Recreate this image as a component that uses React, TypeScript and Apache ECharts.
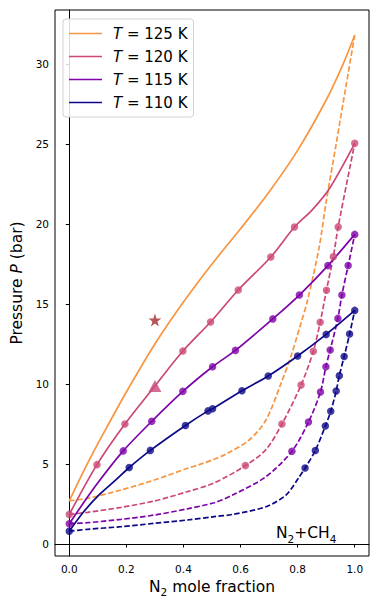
import React, { useEffect, useRef } from "react";
import * as echarts from "echarts";

const FONT = "DejaVu Sans";

const seriesNames = ["T = 125 K", "T = 120 K", "T = 115 K", "T = 110 K"];
const seriesColors = ["#f89540", "#cc4778", "#7e03a8", "#0d0887"];
const xTicks = [0, 0.2, 0.4, 0.6, 0.8, 1.0];
const yTicks = [0, 5, 10, 15, 20, 25, 30];

// T = 125 K model curves (no measured points)
const bubbleCurve125 = [
  [0, 2.7], [0.064, 5.04], [0.123, 7.02], [0.2, 9.5], [0.3, 12.5], [0.4, 15.12],
  [0.5, 17.5], [0.6, 19.7], [0.7, 22.0], [0.8, 24.6], [0.9, 27.75], [0.957, 29.9], [1.0, 31.8],
];
const dewCurve125 = [
  [0, 2.7], [0.064, 2.85], [0.181, 3.375], [0.298, 4.0], [0.414, 4.73], [0.455, 4.96],
  [0.508, 5.3], [0.549, 5.62], [0.63, 6.5], [0.689, 7.75], [0.741, 10.0], [0.776, 11.71],
  [0.81, 13.7], [0.835, 15.25], [0.876, 18.6], [0.899, 21.3], [0.934, 24.9],
  [0.969, 28.58], [1.0, 31.8],
];

// T = 120 K
const bubbleCurve120 = [
  [0, 1.85], [0.097, 4.96], [0.195, 7.5], [0.3, 9.875], [0.398, 12.06], [0.495, 13.875],
  [0.592, 15.875], [0.706, 17.94], [0.789, 19.81], [0.852, 20.9], [0.911, 22.2], [1.0, 25.04],
];
const dewCurve120 = [
  [0, 1.85], [0.064, 1.98], [0.181, 2.29], [0.298, 2.69], [0.414, 3.27], [0.508, 3.82],
  [0.617, 4.9], [0.689, 5.9], [0.745, 7.5], [0.812, 9.93], [0.855, 12.05], [0.879, 13.86],
  [0.901, 15.86], [0.925, 17.95], [0.942, 19.82], [1.0, 25.04],
];
const bubblePts120 = [
  [0, 1.85], [0.097, 4.96], [0.195, 7.5], [0.398, 12.06], [0.495, 13.875], [0.592, 15.875],
  [0.706, 17.94], [0.789, 19.81], [1.0, 25.04],
];
const dewPts120 = [
  [0.617, 4.9], [0.745, 7.5], [0.812, 9.93], [0.855, 12.05], [0.879, 13.86], [0.901, 15.86],
  [0.925, 17.95], [0.942, 19.82],
];

// T = 115 K
const bubbleCurve115 = [
  [0, 1.27], [0.093, 3.65], [0.189, 5.82], [0.289, 7.67], [0.398, 9.54], [0.502, 11.08],
  [0.582, 12.1], [0.713, 14.07], [0.806, 15.56], [0.906, 17.4], [1.0, 19.35],
];
const dewCurve115 = [
  [0, 1.27], [0.064, 1.33], [0.181, 1.54], [0.298, 1.81], [0.414, 2.2], [0.508, 2.58],
  [0.572, 3.06], [0.689, 4.21], [0.78, 5.8], [0.838, 7.62], [0.88, 9.5], [0.899, 11.08],
  [0.914, 12.13], [0.941, 14.1], [0.955, 15.56], [0.977, 17.4], [1.0, 19.35],
];
const bubblePts115 = [
  [0, 1.27], [0.189, 5.82], [0.289, 7.67], [0.398, 9.54], [0.502, 11.08], [0.582, 12.1],
  [0.713, 14.07], [0.806, 15.56], [0.906, 17.4], [1.0, 19.35],
];
const dewPts115 = [
  [0.78, 5.8], [0.838, 7.62], [0.88, 9.5], [0.899, 11.08], [0.914, 12.13], [0.941, 14.1],
  [0.955, 15.56], [0.977, 17.4],
];

// T = 110 K
const bubbleCurve110 = [
  [0, 0.8], [0.047, 1.94], [0.105, 3.08], [0.164, 4.02], [0.21, 4.78], [0.284, 5.85],
  [0.407, 7.41], [0.486, 8.32], [0.502, 8.45], [0.605, 9.58], [0.697, 10.5], [0.8, 11.75],
  [0.9, 13.1], [1.0, 14.6],
];
const dewCurve110 = [
  [0, 0.8], [0.064, 0.92], [0.181, 1.08], [0.298, 1.29], [0.414, 1.5], [0.508, 1.71],
  [0.572, 1.85], [0.689, 2.33], [0.759, 3.06], [0.806, 4.2], [0.826, 4.75], [0.862, 5.84],
  [0.897, 7.37], [0.916, 8.3], [0.935, 9.56], [0.946, 10.52], [0.963, 11.72],
  [0.982, 13.12], [1.0, 14.6],
];
const bubblePts110 = [
  [0, 0.8], [0.21, 4.78], [0.284, 5.85], [0.407, 7.41], [0.486, 8.32], [0.502, 8.45],
  [0.605, 9.58], [0.697, 10.5], [0.8, 11.75], [0.9, 13.1], [1.0, 14.6],
];
const dewPts110 = [
  [0.826, 4.75], [0.862, 5.84], [0.897, 7.37], [0.916, 8.3], [0.935, 9.56], [0.946, 10.52],
  [0.963, 11.72], [0.982, 13.12],
];

const trianglePoint = [[0.3, 9.875]];
const starPoint = [[0.3, 14.0]];

const STAR =
  "path://M50,0 L61.2,34.5 L97.6,34.5 L68.2,55.9 L79.4,90.5 L50,69.1 L20.6,90.5 L31.8,55.9 L2.4,34.5 L38.8,34.5 Z";

function lineSeries(name: string, data: number[][], color: string, dashed: boolean) {
  return {
    type: "line",
    name,
    data,
    symbol: "none",
    showSymbol: false,
    smooth: 0.3,
    lineStyle: { color, width: 1.7, type: dashed ? [5.5, 2.4] : "solid" },
    itemStyle: { color },
    z: 2,
  };
}
function pointSeries(name: string, data: number[][], color: string) {
  return {
    type: "scatter",
    name,
    data,
    symbol: "circle",
    symbolSize: 7.5,
    itemStyle: { color },
    z: 3,
  };
}

export default function App() {
  const ref = useRef<HTMLDivElement>(null);
  useEffect(() => {
    document.body.style.margin = "0";
    if (!ref.current) return;
    const chart = echarts.init(ref.current, null, { renderer: "svg" });
    const [c125, c120, c115, c110] = seriesColors;
    const option = {
      animation: false,
      textStyle: { fontFamily: FONT },
      grid: {
        left: 55,
        right: 13,
        top: 10,
        bottom: 54,
        show: true,
        borderColor: "#000",
        borderWidth: 1,
      },
      legend: {
        data: seriesNames.map((name) => ({ name, icon: "rect" })),
        orient: "vertical",
        left: 63,
        top: 19,
        itemWidth: 33,
        itemHeight: 1.7,
        itemGap: 8,
        padding: [7, 6, 7, 6],
        borderColor: "#d3d3d3",
        borderWidth: 1,
        borderRadius: 3,
        backgroundColor: "rgba(255,255,255,0.85)",
        formatter: (n: string) => `{i|T}{n|${n.slice(1)}}`,
        textStyle: {
          rich: {
            i: { fontStyle: "italic", fontSize: 15, lineHeight: 15, fontFamily: FONT, color: "#000", padding: [0, 0, 0, 6] },
            n: { fontSize: 15, lineHeight: 15, fontFamily: FONT, color: "#000" },
          },
        },
      },
      xAxis: {
        type: "value",
        min: -0.05,
        max: 1.05,
        splitLine: { show: false },
        axisLine: { show: true, lineStyle: { color: "#000", width: 1 } },
        axisTick: { show: true, length: 3.5, customValues: xTicks, lineStyle: { color: "#000" } },
        axisLabel: {
          customValues: xTicks,
          formatter: (v: number) => v.toFixed(1),
          color: "#000",
          fontSize: 10.5,
          fontFamily: FONT,
          margin: 7,
        },
        name: "{n|N}{s|2}{n| mole fraction}",
        nameLocation: "middle",
        nameGap: 20,
        nameTextStyle: {
          rich: {
            n: { fontSize: 15.5, fontFamily: FONT, color: "#000", verticalAlign: "top", lineHeight: 18 },
            s: { fontSize: 10.5, fontFamily: FONT, color: "#000", verticalAlign: "top", lineHeight: 12, padding: [8, 0, 0, 0] },
          },
        },
      },
      yAxis: {
        type: "value",
        min: -0.75,
        max: 33.375,
        splitLine: { show: false },
        axisLine: { show: true, lineStyle: { color: "#000", width: 1 } },
        axisTick: { show: true, length: 3.5, customValues: yTicks, lineStyle: { color: "#000" } },
        axisLabel: {
          customValues: yTicks,
          color: "#000",
          fontSize: 10.5,
          fontFamily: FONT,
          margin: 6,
        },
        name: "{n|Pressure }{i|P}{n| (bar)}",
        nameLocation: "middle",
        nameGap: 21,
        nameTextStyle: {
          rich: {
            n: { fontSize: 15.5, fontFamily: FONT, color: "#000" },
            i: { fontSize: 15.5, fontFamily: FONT, color: "#000", fontStyle: "italic" },
          },
        },
      },
      graphic: [
        {
          type: "text",
          left: 276,
          top: 525,
          z: 10,
          style: {
            text: "{n|N}{s|2}{n|+CH}{s|4}",
            rich: {
              n: { fontSize: 15.5, fontFamily: FONT, fill: "#000", verticalAlign: "top", lineHeight: 18 },
              s: { fontSize: 10.5, fontFamily: FONT, fill: "#000", verticalAlign: "top", lineHeight: 12, padding: [8, 0, 0, 0] },
            },
          },
        },
      ],
      series: [
        lineSeries(seriesNames[0], bubbleCurve125, c125, false),
        lineSeries(seriesNames[0] + " dew", dewCurve125, c125, true),
        lineSeries(seriesNames[1], bubbleCurve120, c120, false),
        lineSeries(seriesNames[1] + " dew", dewCurve120, c120, true),
        lineSeries(seriesNames[2], bubbleCurve115, c115, false),
        lineSeries(seriesNames[2] + " dew", dewCurve115, c115, true),
        lineSeries(seriesNames[3], bubbleCurve110, c110, false),
        lineSeries(seriesNames[3] + " dew", dewCurve110, c110, true),
        pointSeries("120 K bubble data", bubblePts120, c120),
        pointSeries("120 K dew data", dewPts120, c120),
        pointSeries("115 K bubble data", bubblePts115, c115),
        pointSeries("115 K dew data", dewPts115, c115),
        pointSeries("110 K bubble data", bubblePts110, c110),
        pointSeries("110 K dew data", dewPts110, c110),
        {
          type: "scatter",
          name: "triangle",
          data: trianglePoint,
          symbol: "triangle",
          symbolSize: [13, 12],
          itemStyle: { color: c120 },
          z: 4,
        },
        {
          type: "scatter",
          name: "star",
          data: starPoint,
          symbol: STAR,
          symbolSize: 13,
          itemStyle: { color: "#a52a2a" },
          z: 4,
        },
      ],
    };
    chart.setOption(option as any);
    return () => chart.dispose();
  }, []);
  return <div ref={ref} style={{ width: 382, height: 610 }} />;
}
